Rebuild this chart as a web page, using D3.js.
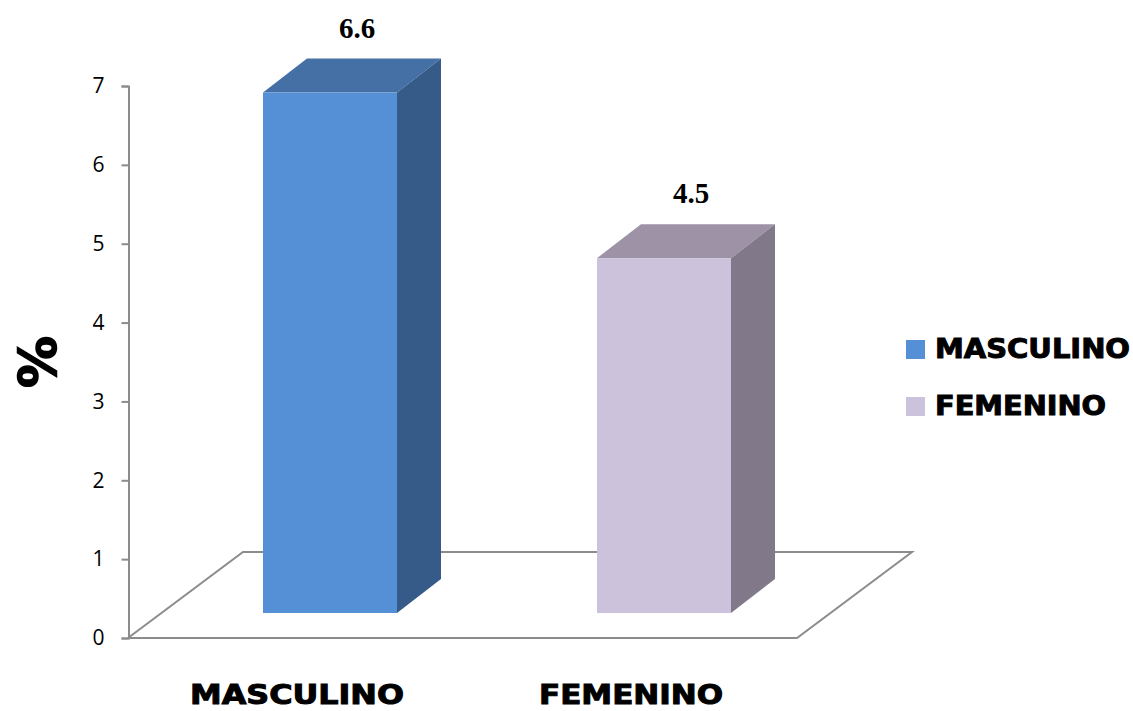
<!DOCTYPE html>
<html><head><meta charset="utf-8">
<script src="https://cdn.jsdelivr.net/npm/d3@7"></script>
<style>body{margin:0;background:#fff}svg{display:block}</style>
</head><body>
<svg id="c" width="1133" height="711"></svg>
<script>
const categories = ["MASCULINO", "FEMENINO"];
const values = [6.6, 4.5];
const valueLabels = ["6.6", "4.5"];
const yTicks = [0, 1, 2, 3, 4, 5, 6, 7];
const frontColors = ["#558fd6", "#ccc2dc"];
const topColors = ["#4470a5", "#9d92a6"];
const sideColors = ["#375b89", "#817989"];

const svg = d3.select("#c");
const y = d3.scaleLinear().domain([0, 7]).range([638, 86]);
const x = d3.scalePoint().domain(categories).range([330, 664]);
const barW = 134, dX = 44, dY = -34, baseY = 613;
const floorDX = 115, floorDY = -86;

// floor
const floorC = "#8c8c8c";
const fl = [[128, 638], [128 + floorDX, 638 + floorDY], [797 + floorDX, 638 + floorDY], [797, 638], [128, 638]];
svg.append("path").attr("d", d3.line()(fl)).attr("fill", "none").attr("stroke", floorC).attr("stroke-width", 2);

// axis
const ax = svg.append("g").attr("transform", "translate(128.5,0)")
  .call(d3.axisLeft(y).tickValues(yTicks).tickSize(7).tickPadding(17).tickFormat(d3.format("d")));
ax.select(".domain").attr("stroke", floorC).attr("stroke-width", 2);
ax.selectAll(".tick line").attr("stroke", floorC).attr("stroke-width", 2);
ax.selectAll(".tick text").attr("font-family", "'Open Sans', 'Liberation Sans', sans-serif").attr("font-size", 21).attr("fill", "#000");

// bars
categories.forEach((c, i) => {
  const x0 = x(c) - barW / 2, x1 = x0 + barW;
  const h = y(0) - y(values[i]);
  const yt = baseY - h;
  const g = svg.append("g");
  g.append("path").attr("d", d3.line()([[x0, yt], [x0 + dX, yt + dY], [x1 + dX, yt + dY], [x1, yt]]) + "Z").attr("fill", topColors[i]);
  g.append("path").attr("d", d3.line()([[x1, yt], [x1 + dX, yt + dY], [x1 + dX, baseY + dY], [x1, baseY]]) + "Z").attr("fill", sideColors[i]);
  g.append("rect").attr("x", x0).attr("y", yt).attr("width", barW).attr("height", h).attr("fill", frontColors[i]);
  svg.append("text").attr("x", x(c) + dX / 2 + 5).attr("y", yt + dY - 21)
    .attr("text-anchor", "middle").attr("font-family", "'Liberation Serif', 'Times New Roman', serif")
    .attr("font-weight", "bold").attr("font-size", 29).text(valueLabels[i]);
  svg.append("text").attr("x", x(c) - 33).attr("y", 704).attr("text-anchor", "middle")
    .attr("font-family", "'DejaVu Sans', sans-serif").attr("font-weight", "bold").attr("font-size", 27)
    .attr("stroke", "#000").attr("stroke-width", 1)
    .attr("textLength", i === 0 ? 214 : 184).attr("lengthAdjust", "spacingAndGlyphs").text(c);
});

// y label
svg.append("text").attr("transform", "translate(56,362) rotate(-90)").attr("text-anchor", "middle")
  .attr("font-family", "'DejaVu Sans', sans-serif").attr("font-weight", "bold").attr("font-size", 52)
  .attr("stroke", "#000").attr("stroke-width", 1.5).text("%");

// legend
const lg = svg.append("g");
categories.forEach((c, i) => {
  const yy = 340 + i * 57;
  lg.append("rect").attr("x", 906).attr("y", yy).attr("width", 19).attr("height", 19).attr("fill", frontColors[i]);
  lg.append("text").attr("x", 935).attr("y", yy + 18).attr("font-family", "'DejaVu Sans', sans-serif")
    .attr("font-weight", "bold").attr("font-size", 27).attr("stroke", "#000").attr("stroke-width", 1)
    .attr("textLength", i === 0 ? 195 : 171).attr("lengthAdjust", "spacingAndGlyphs").text(c);
});
</script>
</body></html>
